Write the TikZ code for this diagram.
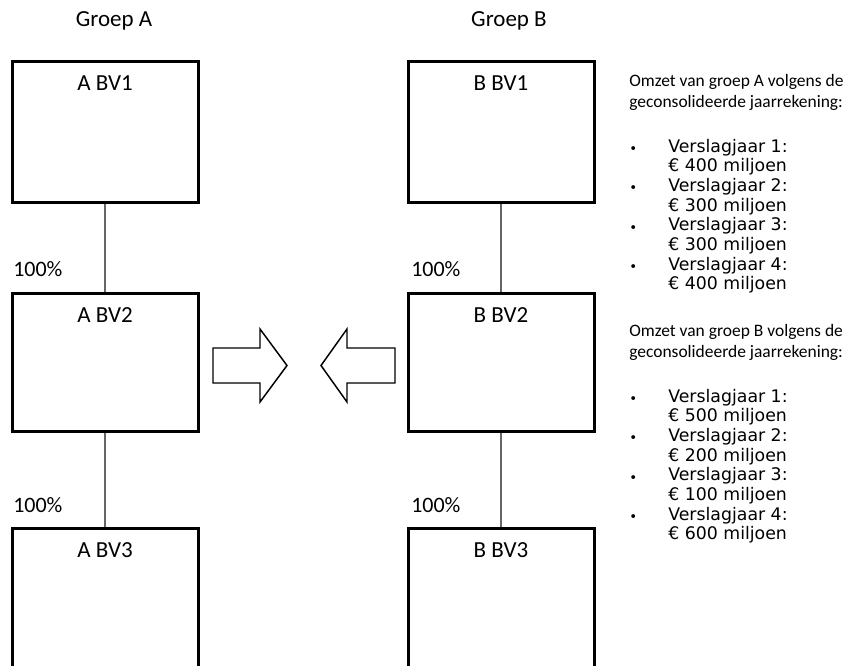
\documentclass[tikz,border=0pt]{standalone}
\usepackage{fontspec}
\setmainfont{Carlito}
\newfontfamily\listfont{DejaVu Sans}
\usetikzlibrary{calc}
\begin{document}
\begin{tikzpicture}[x=0.75pt,y=-0.75pt,
  box/.style={draw=black, line width=2.25pt, minimum width=139.5pt, inner sep=0pt},
  boxlbl/.style={font=\fontsize{17.25}{20}\selectfont, anchor=base, inner sep=0pt},
  grptitle/.style={font=\fontsize{17.25}{20}\selectfont, anchor=base, inner sep=0pt},
  pct/.style={font=\fontsize{16.5}{20}\selectfont, anchor=base west, inner sep=0pt},
  link/.style={draw=black!60, line width=0.9pt},
  bigarrow/.style={draw=black, line width=1.1pt, fill=white, line join=miter},
  headtxt/.style={font=\fontsize{13.1}{16}\selectfont, anchor=base west, inner sep=0pt},
  itemtxt/.style={font=\listfont\fontsize{13}{16}\selectfont, anchor=base west, inner sep=0pt},
  bullettxt/.style={font=\listfont\fontsize{10}{12}\selectfont, anchor=base west, inner sep=0pt},
]
\useasboundingbox (0,0) rectangle (858,665);
\clip (0,0) rectangle (858,665);

% titles
\node[grptitle] (ta) at (114,26) {Groep A};
\node[grptitle] (tb) at (509,26.5) {Groep B};

% group A boxes
\node[box, minimum height=105.75pt] (a1) at (105,132) {};
\node[box, minimum height=103.5pt] (a2) at (105,362.5) {};
\node[box, minimum height=129pt] (a3) at (105,614.5) {};
% group B boxes
\node[box, minimum height=105.75pt] (b1) at (501,132) {};
\node[box, minimum height=103.5pt] (b2) at (501,362.5) {};
\node[box, minimum height=129pt] (b3) at (501,614.5) {};

% box labels
\node[boxlbl] (la1) at ($(a1.north)+(0,30.5)$) {A BV1};
\node[boxlbl] (la2) at ($(a2.north)+(0,30.5)$) {A BV2};
\node[boxlbl] (la3) at ($(a3.north)+(0,30.5)$) {A BV3};
\node[boxlbl] (lb1) at ($(b1.north)+(0,30.5)$) {B BV1};
\node[boxlbl] (lb2) at ($(b2.north)+(0,30.5)$) {B BV2};
\node[boxlbl] (lb3) at ($(b3.north)+(0,30.5)$) {B BV3};

% connectors
\draw[link] (a1) -- (a2);
\draw[link] (a2) -- (a3);
\draw[link] (b1) -- (b2);
\draw[link] (b2) -- (b3);

% percentages
\node[pct] (pa1) at (13,276) {100\%};
\node[pct] (pa2) at (13,512.5) {100\%};
\node[pct] (pb1) at (411,276) {100\%};
\node[pct] (pb2) at (411,512.5) {100\%};

% block arrows
\draw[bigarrow] (213,348) -- (260,348) -- (260,329) -- (287,365.5) -- (260,402) -- (260,383) -- (213,383) -- cycle;
\draw[bigarrow] (395,348) -- (347,348) -- (347,329) -- (321,365.5) -- (347,402) -- (347,383) -- (395,383) -- cycle;

% text group A
\node[headtxt] (ha1) at (629,86.5) {Omzet van groep A volgens de};
\node[headtxt] (ha2) at (629,107.5) {geconsolideerde jaarrekening:};
\foreach \i/\yr/\amt in {0/1/400,1/2/300,2/3/300,3/4/400}{
  \node[bullettxt] at (629,{153.5+39.4*\i}) {•};
  \node[itemtxt] at (668,{152+39.4*\i}) {Verslagjaar \yr:};
  \node[itemtxt] at (668,{171.7+39.4*\i}) {€ \amt{} miljoen};
}

% text group B
\node[headtxt] (hb1) at (629,336.5) {Omzet van groep B volgens de};
\node[headtxt] (hb2) at (629,357.5) {geconsolideerde jaarrekening:};
\foreach \i/\yr/\amt in {0/1/500,1/2/200,2/3/100,3/4/600}{
  \node[bullettxt] at (629,{403.5+39.4*\i}) {•};
  \node[itemtxt] at (668,{402+39.4*\i}) {Verslagjaar \yr:};
  \node[itemtxt] at (668,{421.7+39.4*\i}) {€ \amt{} miljoen};
}
\end{tikzpicture}
\end{document}
